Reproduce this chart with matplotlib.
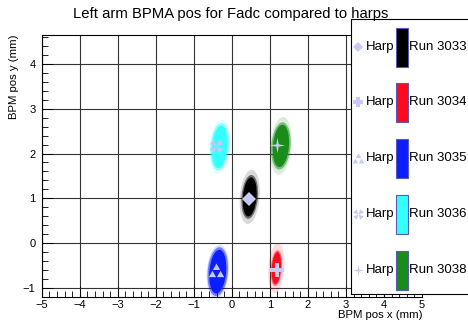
import matplotlib
matplotlib.use("Agg")
import matplotlib.pyplot as plt
import numpy as np
from matplotlib.patches import Ellipse, Rectangle
from matplotlib.path import Path

plt.rcParams['font.family'] = ['Liberation Sans', 'DejaVu Sans']

# runs and BPMA beam position clouds (mm)
runs = ['3033', '3034', '3035', '3036', '3038']
run_colors = ['#000000', '#ff0a1e', '#0a1eff', '#33ffff', '#1a8c1a']
bpm_x = [0.47, 1.17, -0.37, -0.32, 1.29]
bpm_y = [1.03, -0.56, -0.64, 2.15, 2.17]
# spread of each cloud: full width / height of dense core and of the sparse fringe
core_w = [0.36, 0.24, 0.44, 0.40, 0.42]
core_h = [0.88, 0.72, 0.98, 0.95, 0.95]
fringe_w = [0.52, 0.42, 0.58, 0.52, 0.56]
fringe_h = [1.22, 1.12, 1.20, 1.22, 1.30]
tilt = [-6, -5, -6, -6, -6]

# harp positions (mm)
harp_x = [0.44, 1.19, -0.41, -0.41, 1.19]
harp_y = [0.98, -0.61, -0.61, 2.17, 2.20]
harp_color = '#c8c8f5'


def tri_marker(kind):
    verts, codes = [], []

    def poly(pts):
        verts.extend(pts + [pts[0]])
        codes.extend([Path.MOVETO] + [Path.LINETO] * (len(pts) - 1) + [Path.CLOSEPOLY])

    if kind == 'three':
        for cx, cy in [(0, 0.45), (-0.5, -0.45), (0.5, -0.45)]:
            poly([(cx - 0.45, cy - 0.38), (cx + 0.45, cy - 0.38), (cx, cy + 0.42)])
    elif kind == 'fourx':
        for a in [45, 135, 225, 315]:
            r = np.radians(a)
            p1 = (np.cos(r - 0.45), np.sin(r - 0.45))
            p2 = (np.cos(r + 0.45), np.sin(r + 0.45))
            poly([(0, 0), p1, p2])
    elif kind == 'star':
        pts = []
        for a in [0, 90, 180, 270]:
            r = np.radians(a)
            pts.append((np.cos(r), np.sin(r)))
            r2 = np.radians(a + 45)
            pts.append((0.22 * np.cos(r2), 0.22 * np.sin(r2)))
        poly(pts)
    return Path(verts, codes)


harp_markers = ['D', 'P', tri_marker('three'), tri_marker('fourx'), tri_marker('star')]
harp_sizes = [7, 10, 11, 10, 11]

W, H = 468, 323
fig = plt.figure(figsize=(W / 100, H / 100), dpi=100)
ax = fig.add_axes([41.7 / W, 1 - 296.7 / H, (422 - 41.7) / W, (296.7 - 34.5) / H])
ax.set_xlim(-5, 5)
ax.set_ylim(-1.18, 4.66)

for i in range(len(runs)):
    for w, h, a in [(fringe_w[i], fringe_h[i], 0.15), (core_w[i] * 1.2, core_h[i] * 1.12, 0.5),
                    (core_w[i], core_h[i], 1.0)]:
        ax.add_patch(Ellipse((bpm_x[i], bpm_y[i]), w, h, angle=tilt[i],
                             facecolor=run_colors[i], edgecolor='none', alpha=a, zorder=2))
    ax.plot(harp_x[i], harp_y[i], linestyle='none', marker=harp_markers[i],
            markersize=harp_sizes[i], color=harp_color, markeredgewidth=0, zorder=3)

ax.set_xticks(range(-5, 6))
ax.set_yticks(range(-1, 5))
ax.set_xticks(np.arange(-5, 5.01, 0.2), minor=True)
ax.set_yticks(np.arange(-1.2, 4.61, 0.2), minor=True)
ax.grid(True, which='major', color='#333333', linewidth=0.8)
ax.tick_params(which='both', direction='in', top=False, right=False, labelsize=8, width=0.6)
ax.tick_params(which='major', length=8)
ax.tick_params(which='minor', length=4)
ax.tick_params(axis='x', pad=2.5)
ax.tick_params(axis='y', pad=4.5)
for s in ax.spines.values():
    s.set_linewidth(0.8)

fig.text(231 / W, 1 - 14 / H, 'Left arm BPMA pos for Fadc compared to harps',
         ha='center', va='center', fontsize=10.7)
fig.text(422 / W, 1 - 315 / H, 'BPM pos x (mm)', ha='right', va='center', fontsize=8.2)
fig.text(14 / W, 1 - 34.5 / H, 'BPM pos y (mm)', ha='center', va='top',
         rotation=90, fontsize=8.2)

# legend panel, laid out in pixel units
lg = fig.add_axes([351 / W, 1 - 294 / H, (475 - 351) / W, (294 - 19) / H])
lg.set_xlim(351, 475)
lg.set_ylim(294, 19)
lg.set_xticks([])
lg.set_yticks([])
lg.set_facecolor('white')
for s in lg.spines.values():
    s.set_linewidth(0.8)
row_y = [47, 102, 158, 214, 270]
for i in range(len(runs)):
    y = row_y[i]
    lg.plot(358, y, linestyle='none', marker=harp_markers[i], markersize=harp_sizes[i] * 0.75,
            color=harp_color, markeredgewidth=0)
    lg.text(366, y, 'Harp', ha='left', va='center', fontsize=9.5)
    lg.add_patch(Rectangle((396, y - 19.5), 12, 39, facecolor=run_colors[i],
                           edgecolor='#5a5ab4', linewidth=0.8))
    lg.text(409, y, 'Run ' + runs[i], ha='left', va='center', fontsize=9.5)

fig.savefig('out.png', dpi=100)
